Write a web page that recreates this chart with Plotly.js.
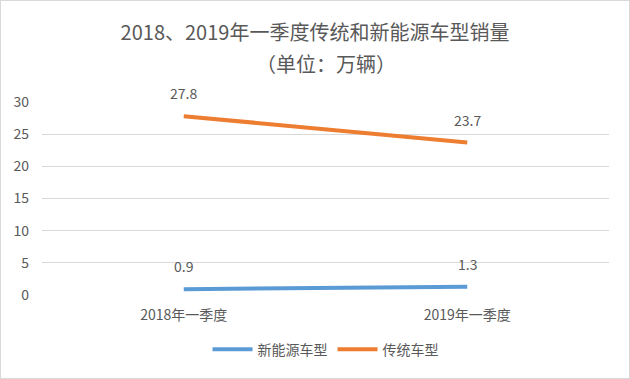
<!DOCTYPE html>
<html><head><meta charset="utf-8">
<script src="https://cdn.plot.ly/plotly-3.0.1.min.js"></script>
<style>html,body{margin:0;padding:0;background:#fff}#c{width:628px;height:377px;border:1px solid #d9d9d9}</style>
</head><body><div id="c"></div>
<script>
const categories = ["2018年一季度", "2019年一季度"];
const newEnergy = [0.9, 1.3];
const traditional = [27.8, 23.7];
const seriesNames = ["新能源车型", "传统车型"];
const yTicks = [0, 5, 10, 15, 20, 25, 30];

const F = "'Noto Sans CJK SC', 'Noto Sans', sans-serif";
const grey = "#595959";
const traces = [
  {x: categories, y: newEnergy, name: seriesNames[0], mode: "lines", line: {color: "#5B9BD5", width: 4}},
  {x: categories, y: traditional, name: seriesNames[1], mode: "lines", line: {color: "#ED7D31", width: 4}}
];
const annotations = [];
[newEnergy, traditional].forEach(arr => arr.forEach((v, i) => annotations.push({
  x: categories[i], y: v, text: String(v), showarrow: false, yshift: 23,
  font: {family: F, size: 14, color: grey}
})));
annotations.push({text: "（单位：万辆）", xref: "paper", yref: "paper", x: 0.5, y: (294 - 63) / 193,
  xanchor: "center", yanchor: "middle", showarrow: false, font: {family: F, size: 20, color: grey}});
Plotly.newPlot("c", traces, {
  width: 628, height: 377,
  margin: {l: 41, r: 20, t: 101, b: 83},
  paper_bgcolor: "#fff", plot_bgcolor: "#fff",
  title: {text: "2018、2019年一季度传统和新能源车型销量", x: 0.5, xanchor: "center", yref: "container", y: 1 - 32/377, yanchor: "middle",
    font: {family: F, size: 20, color: grey}},
  xaxis: {type: "category", range: [-0.5, 1.5], showgrid: false, zeroline: false, showline: false, ticks: "",
    ticklabelstandoff: 10, tickfont: {family: F, size: 14, color: grey}},
  yaxis: {range: [0, 30], tickvals: yTicks, showgrid: true, gridcolor: "#d9d9d9", gridwidth: 1,
    zeroline: false, showline: false, ticks: "", ticklen: 0, ticklabelstandoff: 12,
    tickfont: {family: F, size: 14, color: grey}},
  showlegend: true,
  legend: {orientation: "h", x: 0.5, xanchor: "center", y: -0.2, yanchor: "top", itemwidth: 40,
    font: {family: F, size: 14, color: grey}},
  annotations: annotations
}, {displayModeBar: false, staticPlot: true});
</script></body></html>
